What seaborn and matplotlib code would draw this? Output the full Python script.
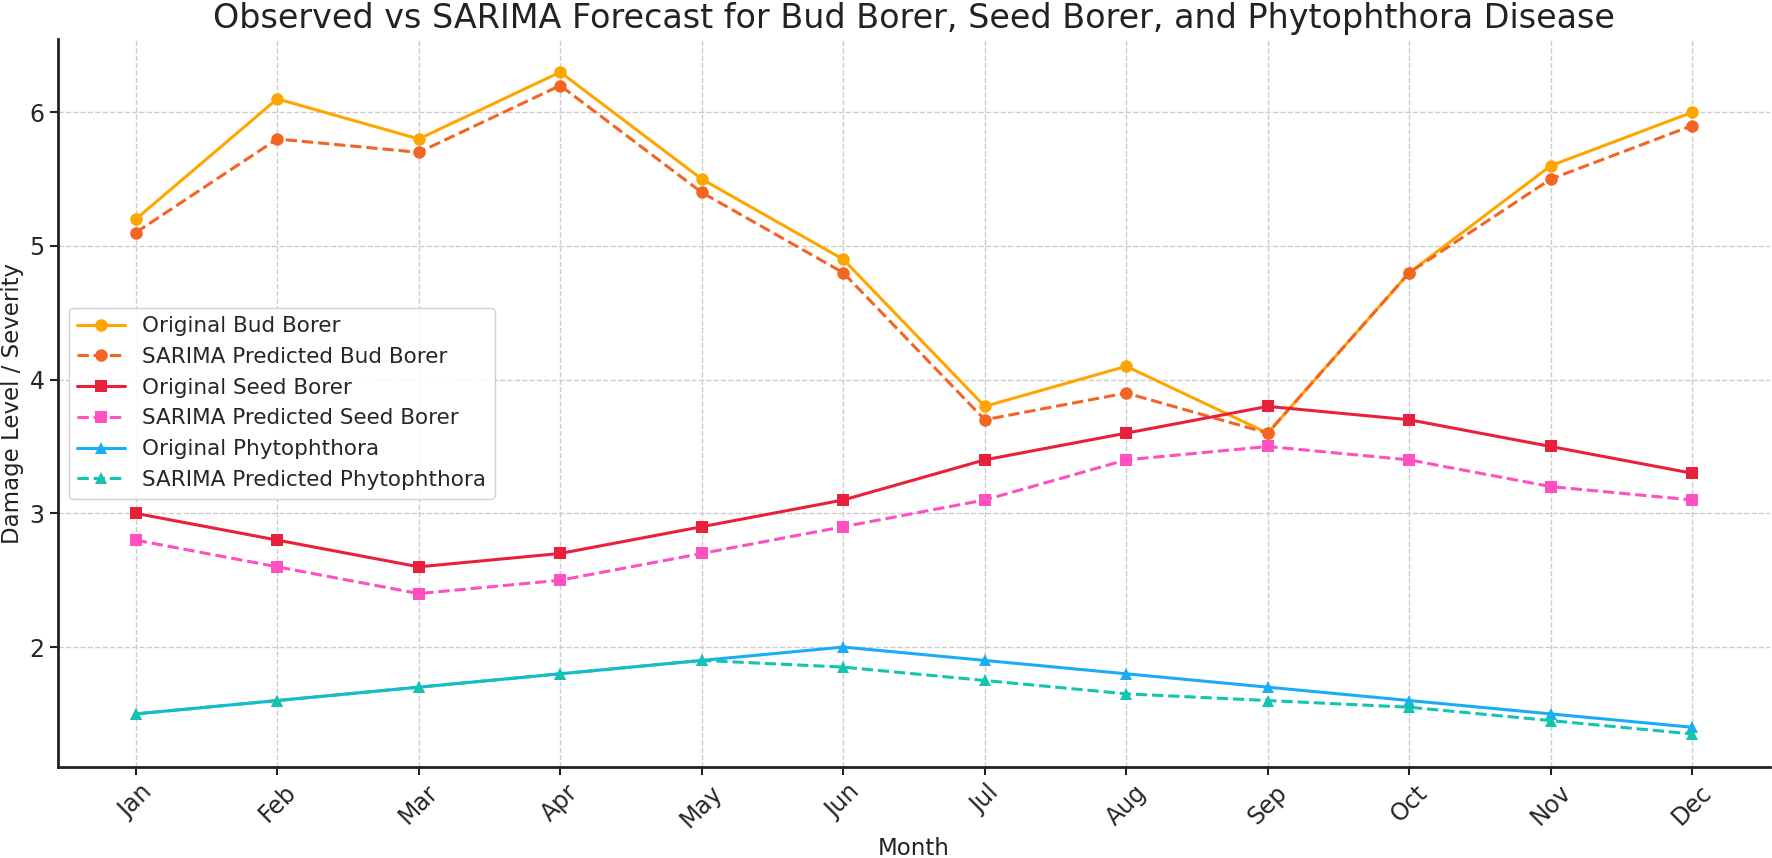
import matplotlib
matplotlib.use("Agg")
import matplotlib.pyplot as plt
import pandas as pd
import seaborn as sns

MONTHS = ["Jan", "Feb", "Mar", "Apr", "May", "Jun", "Jul", "Aug", "Sep", "Oct", "Nov", "Dec"]

bud_original = [5.2, 6.1, 5.8, 6.3, 5.5, 4.9, 3.8, 4.1, 3.6, 4.8, 5.6, 6.0]
bud_sarima = [5.1, 5.8, 5.7, 6.2, 5.4, 4.8, 3.7, 3.9, 3.6, 4.8, 5.5, 5.9]
seed_original = [3.0, 2.8, 2.6, 2.7, 2.9, 3.1, 3.4, 3.6, 3.8, 3.7, 3.5, 3.3]
seed_sarima = [2.8, 2.6, 2.4, 2.5, 2.7, 2.9, 3.1, 3.4, 3.5, 3.4, 3.2, 3.1]
phyto_original = [1.5, 1.6, 1.7, 1.8, 1.9, 2.0, 1.9, 1.8, 1.7, 1.6, 1.5, 1.4]
phyto_sarima = [1.5, 1.6, 1.7, 1.8, 1.9, 1.85, 1.75, 1.65, 1.6, 1.55, 1.45, 1.35]

SERIES = [
    ("Original Bud Borer", bud_original, "#FFA500", "o", "-"),
    ("SARIMA Predicted Bud Borer", bud_sarima, "#F26522", "o", "--"),
    ("Original Seed Borer", seed_original, "#E8203C", "s", "-"),
    ("SARIMA Predicted Seed Borer", seed_sarima, "#FF4FC0", "s", "--"),
    ("Original Phytophthora", phyto_original, "#1AADF5", "^", "-"),
    ("SARIMA Predicted Phytophthora", phyto_sarima, "#14C4AE", "^", "--"),
]

sns.set_theme(style="ticks")
plt.rcParams["font.family"] = ["DejaVu Sans"]

fig, ax = plt.subplots(figsize=(17.72, 8.58), dpi=100)
fig.subplots_adjust(left=0.0327, right=0.9989, top=0.9545, bottom=0.106)

for label, values, color, marker, style in SERIES:
    df = pd.DataFrame({"month": MONTHS, "value": values})
    sns.lineplot(data=df, x="month", y="value", ax=ax, label=label, color=color,
                 marker=marker, linestyle=style, linewidth=2.2, markersize=9,
                 markeredgewidth=0)

ax.grid(True, linestyle="--", color="#cccccc", linewidth=1.0)
ax.set_axisbelow(True)
for side in ("top", "right"):
    ax.spines[side].set_visible(False)
for side in ("left", "bottom"):
    ax.spines[side].set_color("#222222")
    ax.spines[side].set_linewidth(2.0)

ax.tick_params(axis="both", labelsize=17, length=6, width=1.5, color="#222222")
plt.setp(ax.get_xticklabels(), rotation=45)

ax.set_title("Observed vs SARIMA Forecast for Bud Borer, Seed Borer, and Phytophthora Disease",
             fontsize=24, color="#222222", pad=8)
ax.set_xlabel("Month", fontsize=16.5, color="#222222")
ax.set_ylabel("Damage Level / Severity", fontsize=16.5, color="#222222")

ax.legend(loc="center left", fontsize=15.5, frameon=True, framealpha=0.9,
          edgecolor="#cccccc", handlelength=2.2)

fig.savefig("out.png", dpi=100)
